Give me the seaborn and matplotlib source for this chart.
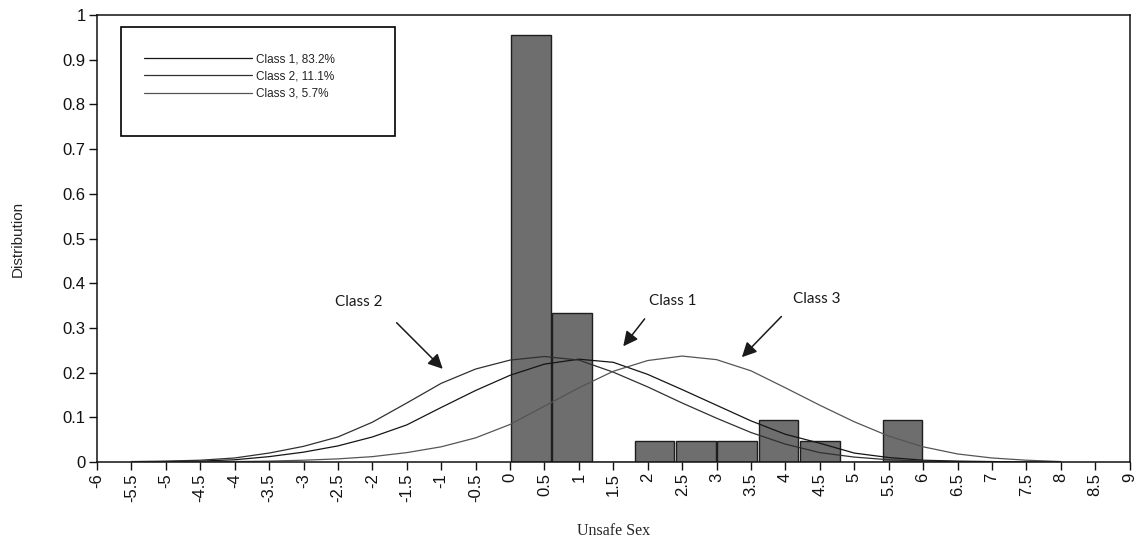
import numpy as np
import pandas as pd
import matplotlib
matplotlib.use("Agg")
import matplotlib.pyplot as plt
from matplotlib.patches import Rectangle
import seaborn as sns

# bars (observed distribution), bins of width 0.6 starting at 0
bar_centers = [0.3, 0.9, 2.1, 2.7, 3.3, 3.9, 4.5, 5.7]
bar_heights = [0.955, 0.333, 0.048, 0.048, 0.048, 0.095, 0.048, 0.095]

# class curves every 0.5
curve_x = [-5.5, -5.0, -4.5, -4.0, -3.5, -3.0, -2.5, -2.0, -1.5, -1.0, -0.5, 0.0, 0.5, 1.0,
           1.5, 2.0, 2.5, 3.0, 3.5, 4.0, 4.5, 5.0, 5.5, 6.0, 6.5, 7.0, 7.5, 8.0]
class1_y = [0.000, 0.001, 0.002, 0.005, 0.012, 0.022, 0.036, 0.056, 0.083, 0.122, 0.160, 0.194, 0.219, 0.230,
            0.223, 0.196, 0.162, 0.127, 0.092, 0.062, 0.042, 0.020, 0.010, 0.004, 0.002, 0.001, 0.000, 0.000]
class2_y = [0.001, 0.002, 0.004, 0.009, 0.020, 0.035, 0.056, 0.089, 0.132, 0.176, 0.208, 0.228, 0.236, 0.228,
            0.201, 0.168, 0.132, 0.098, 0.066, 0.040, 0.021, 0.011, 0.005, 0.002, 0.001, 0.000, 0.000, 0.000]
class3_y = [0.000, 0.000, 0.000, 0.001, 0.002, 0.004, 0.007, 0.012, 0.021, 0.034, 0.054, 0.084, 0.125, 0.166,
            0.203, 0.227, 0.237, 0.229, 0.204, 0.166, 0.127, 0.090, 0.058, 0.034, 0.018, 0.009, 0.004, 0.001]

class_names = ["Class 1", "Class 2", "Class 3"]
class_shares = ["83.2%", "11.1%", "5.7%"]

x_ticks = [-6, -5.5, -5, -4.5, -4, -3.5, -3, -2.5, -2, -1.5, -1, -0.5, 0, 0.5, 1, 1.5, 2, 2.5, 3,
           3.5, 4, 4.5, 5, 5.5, 6, 6.5, 7, 7.5, 8, 8.5, 9]
y_ticks = [0, 0.1, 0.2, 0.3, 0.4, 0.5, 0.6, 0.7, 0.8, 0.9, 1]

sns.set_theme(style="ticks")
plt.rcParams["font.family"] = ["Liberation Sans", "DejaVu Sans"]
plt.rcParams["axes.unicode_minus"] = False

fig, ax = plt.subplots(figsize=(11.37, 5.5), dpi=100)
fig.subplots_adjust(left=0.0853, right=0.9935, bottom=0.16, top=0.9727)

bars = pd.DataFrame({"x": bar_centers, "h": bar_heights})
sns.histplot(data=bars, x="x", weights="h", binwidth=0.6, binrange=(0, 6), shrink=0.96,
             color="#6e6e6e", edgecolor="#1e1e1e", linewidth=1.0, alpha=1, ax=ax)

curves = pd.DataFrame({
    "x": curve_x * 3,
    "y": class1_y + class2_y + class3_y,
    "cls": [c for c in class_names for _ in curve_x],
})
sns.lineplot(data=curves, x="x", y="y", hue="cls", ax=ax, linewidth=0.9,
             palette=["#151515", "#303030", "#555555"], legend=True)

handles, labels = ax.get_legend_handles_labels()
leg_labels = [f"{n}, {s}" for n, s in zip(class_names, class_shares)]
ax.legend(handles, leg_labels, loc="upper left", bbox_to_anchor=(0.0454, 0.915),
          frameon=False, fontsize=8.5, handlelength=9.2, handletextpad=0.3,
          labelspacing=0.45, borderpad=0, borderaxespad=0, labelcolor="#222222")
ax.add_patch(Rectangle((0.0232, 0.729), 0.2654, 0.244, transform=ax.transAxes,
                       fill=False, edgecolor="black", linewidth=1.2))

# annotation arrows
arrows = [("Class 2", (-2.2, 0.358), (-1.676, 0.316), (-0.949, 0.204)),
          ("Class 1", (2.37, 0.36), (1.98, 0.325), (1.62, 0.254)),
          ("Class 3", (4.46, 0.365), (3.97, 0.330), (3.34, 0.230))]
for name, txt, start, tip in arrows:
    ax.text(txt[0], txt[1], name, ha="center", va="center", fontsize=11,
            family=["Lato", "DejaVu Sans"], color="#1a1a1a")
    ax.annotate("", xy=tip, xytext=start,
                arrowprops=dict(arrowstyle="-|>", color="#1a1a1a", lw=1.1, mutation_scale=22))

ax.set_xlim(-6, 9)
ax.set_ylim(0, 1)
ax.set_xticks(x_ticks)
ax.set_xticklabels([f"{v:g}" for v in x_ticks], rotation=90, fontsize=12)
ax.set_yticks(y_ticks)
ax.set_yticklabels([f"{v:g}" for v in y_ticks], fontsize=12)
ax.tick_params(direction="out", length=6, width=1, colors="#111111", pad=2)

for side in ["top", "right", "left", "bottom"]:
    ax.spines[side].set_visible(True)
    ax.spines[side].set_color("#111111")
    ax.spines[side].set_linewidth(1.1)

ax.set_xlabel("Unsafe Sex", fontsize=11.5, family=["Liberation Serif", "DejaVu Serif"])
ax.set_ylabel("Distribution", fontsize=11)
ax.xaxis.set_label_coords(0.5, -0.137)
ax.yaxis.set_label_coords(-0.07, 0.5)

fig.savefig("out.png", dpi=100)
